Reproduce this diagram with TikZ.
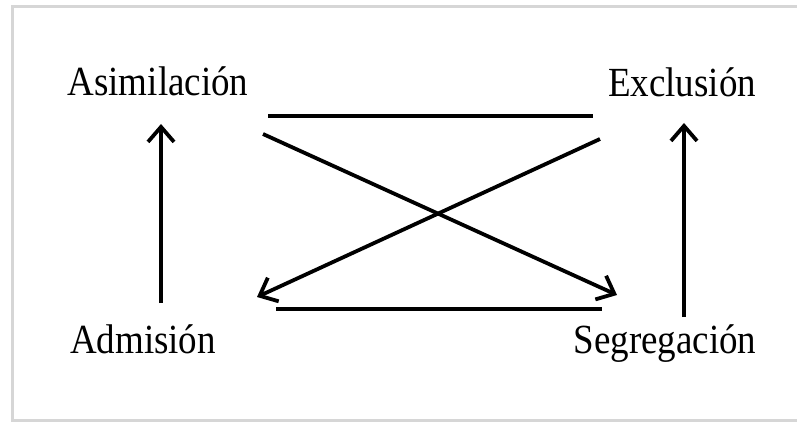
\documentclass[tikz,border=0pt]{standalone}
\usepackage{fontspec}
\setmainfont{Liberation Serif}
\usetikzlibrary{arrows.meta}
\begin{document}
\begin{tikzpicture}[x=1pt,y=-1pt,
  lbl/.style={anchor=base,inner sep=0pt,font=\fontsize{37}{44}\selectfont},
  conn/.style={line width=3.8pt},
  arr/.style={conn,-{Straight Barb[length=15pt,width=26pt,line width=3.8pt]}},
  frame/.style={draw=black!16,line width=3pt}]
\useasboundingbox (0,0) rectangle (797,425);
\fill[white] (0,0) rectangle (797,425);
\draw[frame] (797,7) -- (12,7) -- (12,420) -- (797,420);
\node[lbl] (asi) at (158,96) {\scalebox{1}[1.12]{Asimilación}};
\node[lbl] (exc) at (682,97) {\scalebox{1}[1.12]{Exclusión}};
\node[lbl] (adm) at (143,353) {\scalebox{1}[1.12]{Admisión}};
\node[lbl] (seg) at (665,353) {\scalebox{1}[1.12]{Segregación}};
\coordinate (a1) at (161,303); \coordinate (a2) at (161,124);
\coordinate (b1) at (684,317); \coordinate (b2) at (684,123);
\coordinate (t1) at (268,116); \coordinate (t2) at (593,116);
\coordinate (u1) at (276,309); \coordinate (u2) at (602,309);
\coordinate (d1) at (263,134); \coordinate (d2) at (617,295);
\coordinate (e1) at (600,139); \coordinate (e2) at (257,297);
\draw[arr] (a1) -- (a2);
\draw[arr] (b1) -- (b2);
\draw[conn] (t1) -- (t2);
\draw[conn] (u1) -- (u2);
\draw[arr] (d1) -- (d2);
\draw[arr] (e1) -- (e2);
\end{tikzpicture}
\end{document}
